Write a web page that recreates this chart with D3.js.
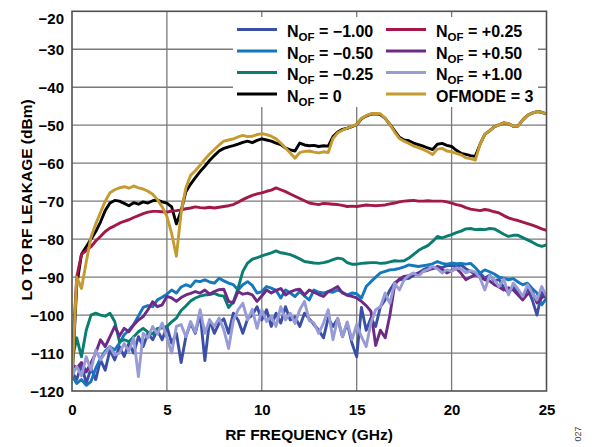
<!DOCTYPE html>
<html>
<head>
<meta charset="utf-8">
<script src="https://cdn.jsdelivr.net/npm/d3@7"></script>
<style>
  body { margin: 0; background: #fff; }
  svg { display: block; }
  text { font-family: "Liberation Sans", Arial, Helvetica, sans-serif; font-weight: bold; fill: #000; }
</style>
</head>
<body>
<svg id="chart" width="595" height="447"></svg>
<script>
// Frequency grid of the sweep, GHz (0 to 25 GHz every 0.25 GHz)
const freqGHz = d3.range(0, 101).map(i => i * 0.25);

// LO to RF leakage, dBm, one value per frequency point
const nofMinus100 = [
  -115, -117, -113, -118, -114, -117, -111.8, -114.5, -109.2, -111.8,
  -108.3, -110.9, -107.4, -110, -105.7, -108.3, -104.8, -106.5, -104, -106.5,
  -103, -107.4, -104.8, -112.5, -105.7, -102.1, -104.8, -99.5, -112, -101.3,
  -104.8, -102.1, -101, -104.8, -99.5, -101.3, -104.8, -101, -100, -97.8,
  -101.3, -98.6, -103, -99.5, -102.1, -97.8, -101.3, -100.5, -103, -99.5,
  -101, -102.5, -104, -106, -100.8, -103, -101, -105.7, -102.1, -107.4,
  -111, -98, -104, -100.8, -103, -97.8, -96, -93.4, -91.5, -90.7,
  -90.5, -90.3, -89.5, -88.9, -88.1, -87.5, -87.8, -87.2, -87.5, -87,
  -86.9, -87.3, -86.8, -87.8, -88.5, -89.4, -89, -90.3, -89.5, -91,
  -90.6, -92.8, -94.2, -92.5, -94, -95.5, -93, -96, -100, -94,
  -95.5
];
const nofMinus050 = [
  -116, -118, -117, -118.5, -117.5, -114, -111.5, -109.5, -108.3, -109.2,
  -107.4, -105.2, -104, -102.5, -100.2, -98, -97.5, -97.8, -96, -95.3,
  -94.5, -93.4, -94.2, -92.6, -92, -92.5, -91, -91.2, -90.7, -91.3,
  -91.6, -90.3, -91, -91.6, -92, -93.4, -92, -91.2, -92.2, -94.2,
  -93.8, -92.5, -92.9, -93.5, -95.5, -93.4, -94.2, -95.1, -93.8, -95,
  -96, -93.4, -94, -94.2, -93.8, -94, -93.4, -94, -94.7, -94.2,
  -94.4, -95.5, -92.5, -91.2, -90, -88.9, -88.5, -88.1, -88, -87.7,
  -87.3, -86.8, -87, -87.2, -87, -86.8, -86.5, -85.9, -86.4, -86.6,
  -86.3, -86.5, -86.4, -86.6, -86.4, -87.5, -88.9, -88.1, -88.6, -89.2,
  -90, -90.3, -90.7, -90.4, -91.3, -92, -91.6, -93, -94.2, -97.3,
  -95.5
];
const nofMinus025 = [
  -112, -106, -111, -104, -100, -99.5, -100, -100.3, -99.5, -101.7,
  -107, -106.5, -107, -105.7, -104.4, -103.5, -104.5, -105, -103.5, -103.4,
  -103, -101.8, -100.8, -98.8, -97.6, -96.3, -95.5, -95, -94.7, -94.6,
  -94.3, -94.8, -95, -98, -96.5, -93, -88.5, -86.3, -85.3, -84.9,
  -84.4, -84, -83.6, -83.1, -83.6, -83.8, -84.1, -84.6, -85.2, -85.9,
  -86.1, -86.3, -86.4, -86.2, -85.9, -85.4, -85, -85.2, -86.2, -86.6,
  -86.6, -86.4, -86.3, -86.2, -86.2, -86.4, -86.3, -86, -85.7, -85.8,
  -85.7, -85, -84, -83, -82.3, -81.7, -80.6, -79.3, -79.7, -79.2,
  -78.8, -78.3, -77.9, -77.3, -77.2, -77.5, -77.4, -77.5, -77.2, -77.3,
  -78, -78.7, -79.3, -79, -79, -79.6, -80.2, -80.8, -81.5, -81.9,
  -81.5
];
const nofZero = [
  -117, -92, -84, -82, -80, -78, -75.5, -72.5, -70.5, -69.8,
  -70, -70.6, -71.2, -70.4, -70.8, -70.2, -70.5, -69.9, -69.7, -70.2,
  -70.5, -71.5, -76, -72.5, -67.5, -65.5, -63.8, -62.2, -60.8, -59.3,
  -58, -56.8, -56.1, -55.7, -55.4, -55, -54.5, -54.2, -54.6, -54,
  -53.6, -53.9, -54.2, -54.7, -55.1, -56, -56.5, -56.8, -54.7, -55.2,
  -55.4, -55.3, -55.6, -55.4, -55.5, -53, -51.8, -51.1, -50.8, -50.4,
  -49.8, -48.3, -47.6, -47.1, -47, -47.2, -48.2, -49.8, -51.5, -53.2,
  -53.9, -54.1, -54.7, -55.1, -55.5, -56, -56.4, -55, -54.8, -55.3,
  -55.6, -56.6, -57.4, -57.7, -58, -58.2, -55, -52.4, -51.5, -50.4,
  -49.9, -49.4, -49.6, -50.3, -50.2, -48.6, -47.4, -46.8, -46.4, -46.6,
  -47
];
const nofPlus025 = [
  -112, -90, -84, -83, -82, -80.5, -79.3, -78, -77.1, -76.5,
  -75.8, -75.3, -74.9, -74.3, -73.8, -73.3, -72.9, -72.7, -72.7, -72.8,
  -72.9, -72.6, -72.5, -72.3, -72, -71.8, -71.5, -71.7, -71.8, -71.6,
  -71.8, -71.6, -71.4, -71.2, -70.9, -70.3, -69.6, -69, -68.5, -68.1,
  -67.8, -67.4, -67.1, -66.5, -67, -67.5, -68.1, -68.7, -69.3, -69.9,
  -70.5, -70.7, -70.9, -70.6, -70.7, -70.8, -70.9, -71.1, -71.4, -71.3,
  -71.4, -71.2, -71, -71.1, -71.2, -71.1, -71, -70.7, -70.5, -70.2,
  -70, -69.9, -69.8, -70, -70, -69.9, -70, -70, -70, -70.2,
  -70.5, -70.9, -71.2, -71.7, -72.1, -72.3, -72.5, -72.2, -72.4, -72.8,
  -73.1, -73.8, -74.4, -74.8, -75.1, -75.5, -75.9, -76.3, -76.8, -77.3,
  -77.7
];
const nofPlus050 = [
  -113, -114, -112.5, -115, -112.6, -110, -106.5, -108.3, -105.7, -103,
  -105.5, -103.5, -104.4, -102.6, -101.3, -100.4, -98.6, -96.5, -97.8, -97.3,
  -95.1, -95.5, -96.4, -95.4, -94.7, -94.3, -93.8, -94.2, -93.4, -94.5,
  -93.8, -93.3, -93.2, -96.4, -96.8, -93.8, -94.5, -94.2, -94.7, -96.4,
  -95, -93.4, -94.2, -93.5, -93, -94.7, -93.9, -93.4, -93.2, -94.7,
  -93.4, -94, -94.6, -95.1, -93.8, -93.2, -92.5, -94.2, -94.8, -95.1,
  -95.5, -96.4, -97.5, -99, -108, -104, -106, -100, -92, -90.5,
  -89.8, -89.6, -89.4, -89, -88.5, -88.2, -87.7, -87.5, -88, -88.9,
  -88.3, -87.7, -89, -90.7, -90, -89.4, -90, -90.7, -91, -92,
  -92.6, -93.4, -92.8, -93.4, -94.7, -96, -94.5, -93.8, -96.8, -95.5,
  -94.5
];
const nofPlus100 = [
  -116, -113.6, -116, -111, -114.5, -109.2, -111.8, -110, -108.3, -110.5,
  -110, -107.5, -109.5, -106, -116.2, -104.8, -106, -103, -105, -102.1,
  -106, -110, -103, -102.5, -105.7, -101.7, -104.5, -98.6, -104.8, -101.3,
  -103, -100.8, -103.9, -108.8, -101.5, -98.6, -96.9, -101.3, -98.5, -103.5,
  -98.6, -101.7, -100.4, -103, -97.8, -101.3, -99.5, -102.2, -98.6, -96.4,
  -101.5, -102.1, -104.8, -102.1, -98.6, -106.5, -100.8, -105.7, -101.8, -106.5,
  -102.5, -105.7, -108.3, -102.1, -98.6, -97.8, -94.2, -96.9, -91.6, -93.4,
  -90.7, -89.5, -88.9, -89.8, -88.5, -88, -87.2, -87.8, -88.9, -88.1,
  -88.5, -87.6, -87.8, -88.9, -88.3, -88.7, -90.3, -93.4, -89.6, -90.7,
  -92.5, -90.5, -94.7, -91.6, -93.2, -95.1, -92, -94.2, -96, -92.5,
  -95.1
];
const ofmode3 = [
  -117, -90, -93, -86, -79.5, -76, -73, -70, -67.8, -67,
  -66.5, -66.2, -66.6, -66, -66.5, -66.8, -67.4, -68.2, -69.6, -71.5,
  -74, -78.5, -84.5, -73, -66.5, -63.2, -62, -60.5, -59, -57.6,
  -56.4, -55.2, -54.2, -53.9, -53.6, -53.1, -52.7, -53, -52.9, -52.5,
  -52.2, -52.5, -52.9, -53.6, -54.7, -56, -57.3, -58.7, -57.2, -56.9,
  -56.8, -57.1, -57.3, -57, -57.2, -53.5, -52, -51.3, -50.8, -50.3,
  -49.8, -48.2, -47.5, -47, -46.9, -47, -48.2, -49.8, -51.8, -53.5,
  -54.2, -54.8, -55.5, -55.9, -56.4, -57, -57.7, -56.3, -56.1, -56.8,
  -57, -57.4, -57.8, -58.6, -58.8, -59.2, -55, -52.4, -51.5, -50.4,
  -49.9, -49.4, -49.6, -50.3, -50.2, -48.6, -47.4, -46.8, -46.4, -46.6,
  -47
];

// Series labels, colours and draw order
const seriesKeys = ["−1.00", "−0.50", "−0.25", "0", "+0.25", "+0.50", "+1.00", "OFMODE = 3"];
const seriesValues = [nofMinus100, nofMinus050, nofMinus025, nofZero, nofPlus025, nofPlus050, nofPlus100, ofmode3];
const seriesColors = ["#3b4fa6", "#1577bd", "#0a7d70", "#000000", "#a3174a", "#6d2a86", "#989cd6", "#c59a2f"];

// Axis ticks
const xTicks = [0, 5, 10, 15, 20, 25];
const xTickLabels = ["0", "5", "10", "15", "20", "25"];
const yTicks = [-120, -110, -100, -90, -80, -70, -60, -50, -40, -30, -20];
const yTickLabels = ["−120", "−110", "−100", "−90", "−80", "−70", "−60", "−50", "−40", "−30", "−20"];

const svg = d3.select("#chart");
const plot = { left: 72, right: 546.5, top: 11.3, bottom: 391 };
const W = plot.right - plot.left, H = plot.bottom - plot.top;

const x = d3.scaleLinear().domain([0, 25]).range([plot.left, plot.right]);
const y = d3.scaleLinear().domain([-120, -20]).range([plot.bottom, plot.top]);

// Grid
const grid = svg.append("g").attr("stroke", "#7a7a7a").attr("stroke-width", 1.3);
grid.selectAll("line.v").data(xTicks.slice(1, -1)).join("line")
  .attr("x1", d => x(d)).attr("x2", d => x(d))
  .attr("y1", plot.top).attr("y2", plot.bottom);
grid.selectAll("line.h").data(yTicks.slice(1, -1)).join("line")
  .attr("x1", plot.left).attr("x2", plot.right)
  .attr("y1", d => y(d)).attr("y2", d => y(d));

// Legend panel masks the grid behind it
svg.append("rect").attr("x", 233).attr("y", 17).attr("width", 305).attr("height", 90).attr("fill", "#fff");

// Axes (labels only; the frame is drawn separately)
const yAxis = d3.axisLeft(y).tickValues(yTicks).tickSize(0).tickPadding(8)
  .tickFormat((d, i) => yTickLabels[i]);
const gy = svg.append("g").attr("transform", `translate(${plot.left},0)`).call(yAxis);
gy.select(".domain").remove();
gy.selectAll("text").style("font-size", "15px").style("font-family", "'Liberation Sans', Arial, sans-serif").style("font-weight", "bold")
  .attr("dy", (d) => d === -20 ? "0.82em" : "0.35em");

const xAxis = d3.axisBottom(x).tickValues(xTicks).tickSize(0).tickPadding(13)
  .tickFormat((d, i) => xTickLabels[i]);
const gx = svg.append("g").attr("transform", `translate(0,${plot.bottom})`).call(xAxis);
gx.select(".domain").remove();
gx.selectAll("text").style("font-size", "15px").style("font-family", "'Liberation Sans', Arial, sans-serif").style("font-weight", "bold");

// Data lines
svg.append("clipPath").attr("id", "plotClip").append("rect")
  .attr("x", plot.left).attr("y", plot.top).attr("width", W).attr("height", H);
const line = d3.line().x((d, i) => x(freqGHz[i])).y(d => y(d));
svg.append("g").attr("clip-path", "url(#plotClip)")
  .selectAll("path").data(seriesValues).join("path")
  .attr("d", d => line(d))
  .attr("fill", "none")
  .attr("stroke", (d, i) => seriesColors[i])
  .attr("stroke-width", 2.9)
  .attr("stroke-linejoin", "round");

// Frame
svg.append("rect").attr("x", plot.left).attr("y", plot.top).attr("width", W).attr("height", H)
  .attr("fill", "none").attr("stroke", "#505050").attr("stroke-width", 1.6);

// Legend
const legendCols = [{ lx: 237, tx: 287 }, { lx: 386, tx: 436 }];
const rowY = [29.5, 51, 72.5, 94];
const legend = svg.append("g");
seriesKeys.forEach((key, i) => {
  const col = legendCols[Math.floor(i / 4)], r = rowY[i % 4];
  legend.append("line").attr("x1", col.lx).attr("x2", col.lx + 40).attr("y1", r).attr("y2", r)
    .attr("stroke", seriesColors[i]).attr("stroke-width", 3);
  const t = legend.append("text").attr("x", col.tx).attr("y", r + 7.5).style("font-size", "16px");
  if (key.startsWith("OFMODE")) {
    t.text(key);
  } else {
    t.append("tspan").text("N");
    t.append("tspan").attr("dy", 4).style("font-size", "11.5px").text("OF");
    t.append("tspan").attr("dy", -4).text(" = " + key);
  }
});

// Axis titles
svg.append("text").attr("x", 309).attr("y", 440).attr("text-anchor", "middle")
  .style("font-size", "15.5px").text("RF FREQUENCY (GHz)");
svg.append("text").attr("transform", "translate(32,200) rotate(-90)").attr("text-anchor", "middle")
  .style("font-size", "15.5px").text("LO TO RF LEAKAGE (dBm)");

// Figure number
svg.append("text").attr("transform", "translate(581,434) rotate(-90)").attr("text-anchor", "middle")
  .style("font-size", "9px").style("font-weight", "normal").style("fill", "#444").text("027");
</script>
</body>
</html>
